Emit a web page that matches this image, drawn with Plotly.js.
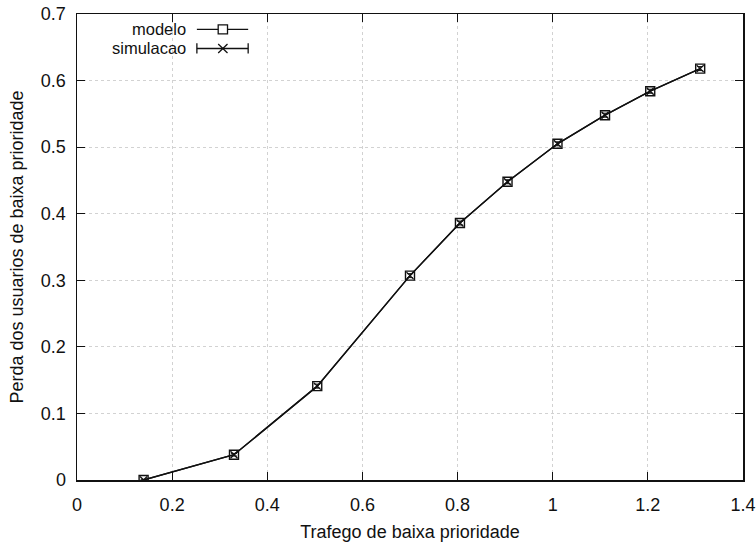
<!DOCTYPE html>
<html>
<head>
<meta charset="utf-8">
<script src="https://cdn.plot.ly/plotly-3.0.1.min.js"></script>
<style>
  html, body { margin: 0; padding: 0; background: #fff; }
  #chart { width: 756px; height: 544px; }
</style>
</head>
<body>
<div id="chart"></div>
<script>
// Low-priority traffic vs. loss of low-priority users
const trafego = [0.14, 0.33, 0.505, 0.70, 0.805, 0.905, 1.01, 1.11, 1.205, 1.31];
const modelo = [0.0, 0.038, 0.141, 0.307, 0.386, 0.448, 0.505, 0.548, 0.584, 0.618];
const simulacao = [0.0, 0.038, 0.141, 0.307, 0.386, 0.448, 0.505, 0.548, 0.584, 0.618];
const simulacaoErro = [0.001, 0.002, 0.003, 0.003, 0.003, 0.003, 0.003, 0.003, 0.003, 0.003];

const xTicks = [0, 0.2, 0.4, 0.6, 0.8, 1, 1.2, 1.4];
const xTickText = ['0', '0.2', '0.4', '0.6', '0.8', '1', '1.2', '1.4'];
const yTicks = [0, 0.1, 0.2, 0.3, 0.4, 0.5, 0.6, 0.7];
const yTickText = ['0', '0.1', '0.2', '0.3', '0.4', '0.5', '0.6', '0.7'];

const FONT = 'Liberation Sans, Arial, Helvetica, sans-serif';
const TXT = { family: FONT, size: 18, color: '#111' };
const KEYTXT = { family: FONT, size: 16.5, color: '#111' };

const traces = [
  {
    x: trafego, y: modelo, name: 'modelo', mode: 'lines+markers',
    line: { color: '#111', width: 1.4 },
    marker: { symbol: 'square-open', size: 9, color: '#111', line: { width: 1.4 } },
    showlegend: false
  },
  {
    x: trafego, y: simulacao, name: 'simulacao', mode: 'lines+markers',
    line: { color: '#111', width: 1.4 },
    marker: { symbol: 'x-thin-open', size: 7, color: '#111', line: { width: 1.3 } },
    error_y: { type: 'data', array: simulacaoErro, visible: true, color: '#111', thickness: 1, width: 3 },
    showlegend: false
  }
];

// key in the upper-left corner: label on the left, line sample on the right
const keyRows = [0.967, 0.926];
const keyX0 = 0.180, keyX1 = 0.257, keyMid = 0.219, keyText = 0.165;
const LN = { color: '#111', width: 1.3 };
const shapes = [
  // modelo sample
  { type: 'line', xref: 'paper', yref: 'paper', x0: keyX0, x1: keyX1, y0: keyRows[0], y1: keyRows[0], line: { color: '#111', width: 1.2 } },
  { type: 'rect', xref: 'paper', yref: 'paper', x0: keyMid - 0.007, x1: keyMid + 0.007, y0: keyRows[0] - 0.0095, y1: keyRows[0] + 0.0095, line: LN, fillcolor: '#fff' },
  // simulacao sample with error-bar caps
  { type: 'line', xref: 'paper', yref: 'paper', x0: keyX0, x1: keyX1, y0: keyRows[1], y1: keyRows[1], line: LN },
  { type: 'line', xref: 'paper', yref: 'paper', x0: keyX0, x1: keyX0, y0: keyRows[1] - 0.011, y1: keyRows[1] + 0.011, line: LN },
  { type: 'line', xref: 'paper', yref: 'paper', x0: keyX1, x1: keyX1, y0: keyRows[1] - 0.011, y1: keyRows[1] + 0.011, line: LN },
  { type: 'line', xref: 'paper', yref: 'paper', x0: keyMid - 0.007, x1: keyMid + 0.007, y0: keyRows[1] - 0.0095, y1: keyRows[1] + 0.0095, line: LN },
  { type: 'line', xref: 'paper', yref: 'paper', x0: keyMid - 0.007, x1: keyMid + 0.007, y0: keyRows[1] + 0.0095, y1: keyRows[1] - 0.0095, line: LN }
];

const annotations = [
  { text: 'modelo', xref: 'paper', yref: 'paper', x: keyText, y: keyRows[0], xanchor: 'right', yanchor: 'middle', showarrow: false, font: KEYTXT, borderpad: 0 },
  { text: 'simulacao', xref: 'paper', yref: 'paper', x: keyText, y: keyRows[1], xanchor: 'right', yanchor: 'middle', showarrow: false, font: KEYTXT, borderpad: 0 }
];

const axisCommon = {
  showline: true, linecolor: '#111', linewidth: 1.5, mirror: 'ticks',
  ticks: 'inside', ticklen: 8, tickwidth: 1.2, tickcolor: '#111',
  showgrid: true, gridcolor: '#d2d2d2', griddash: 'dot', gridwidth: 1,
  zeroline: false, tickfont: TXT, automargin: false
};

const layout = {
  width: 756, height: 544,
  margin: { l: 77, r: 13, t: 14, b: 64 },
  paper_bgcolor: '#fff', plot_bgcolor: '#fff',
  font: { family: FONT, color: '#111' },
  xaxis: Object.assign({}, axisCommon, {
    range: [0, 1.4], tickvals: xTicks, ticktext: xTickText, ticklabelstandoff: 8,
    title: { text: 'Trafego de baixa prioridade', font: TXT, standoff: 11 }
  }),
  yaxis: Object.assign({}, axisCommon, {
    range: [0, 0.7], tickvals: yTicks, ticktext: yTickText, ticklabelstandoff: 6,
    title: { text: 'Perda dos usuarios de baixa prioridade', font: TXT, standoff: 12 }
  }),
  shapes: shapes,
  annotations: annotations,
  showlegend: false
};

Plotly.newPlot('chart', traces, layout, { displayModeBar: false, staticPlot: true });
</script>
</body>
</html>
